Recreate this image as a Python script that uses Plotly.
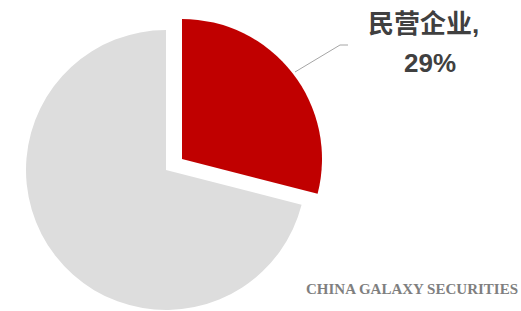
import plotly.graph_objects as go

categories = ["民营企业", "其他"]
values = [29, 71]
colors = ["#C00000", "#DDDDDD"]
label_name = "民营企业,"
label_pct = "29%"
watermark = "CHINA GALAXY SECURITIES"

W, H = 521, 311

def dom(cx, cy, r):
    return dict(x=[(cx - r) / W, (cx + r) / W], y=[max(0, (H - (cy + r)) / H), (H - (cy - r)) / H])

T = "rgba(0,0,0,0)"
fig = go.Figure()
# base (gray) slice
fig.add_trace(go.Pie(labels=categories, values=values, sort=False, direction="clockwise", rotation=0,
                     marker=dict(colors=[T, colors[1]], line=dict(width=0)), textinfo="none",
                     hoverinfo="label+percent", domain=dom(166, 170, 140), showlegend=False))
# pulled-out (red) slice
fig.add_trace(go.Pie(labels=categories, values=values, sort=False, direction="clockwise", rotation=0,
                     marker=dict(colors=[colors[0], T], line=dict(width=0)), textinfo="none",
                     hoverinfo="label+percent", domain=dom(182, 159, 140), showlegend=False))

fig.add_shape(type="path", path="M 295 72 L 340 45 L 348 45", xref="x", yref="y",
              line=dict(color="#A6A6A6", width=1))

lab_font = dict(family="Liberation Sans, Noto Sans CJK SC", size=26, color="#404040")
fig.add_annotation(x=423, y=24, xref="x", yref="y", text="<b>" + label_name + "</b>", showarrow=False,
                   font=lab_font, xanchor="center", yanchor="middle")
fig.add_annotation(x=430, y=63, xref="x", yref="y", text="<b>" + label_pct + "</b>", showarrow=False,
                   font=lab_font, xanchor="center", yanchor="middle")
fig.add_annotation(x=520, y=289, xref="x", yref="y", text="<b>" + watermark + "</b>", showarrow=False,
                   font=dict(family="Liberation Serif", size=15, color="#7F7F7F"),
                   xanchor="right", yanchor="middle")

fig.update_layout(width=W, height=H, margin=dict(l=0, r=0, t=0, b=0),
                  paper_bgcolor="white", plot_bgcolor="rgba(0,0,0,0)",
                  xaxis=dict(range=[0, W], visible=False, fixedrange=True),
                  yaxis=dict(range=[H, 0], visible=False, fixedrange=True))
fig.write_html("out.html", config={"displayModeBar": False},
               post_script="document.body.style.margin='0';document.body.style.overflow='hidden';")
